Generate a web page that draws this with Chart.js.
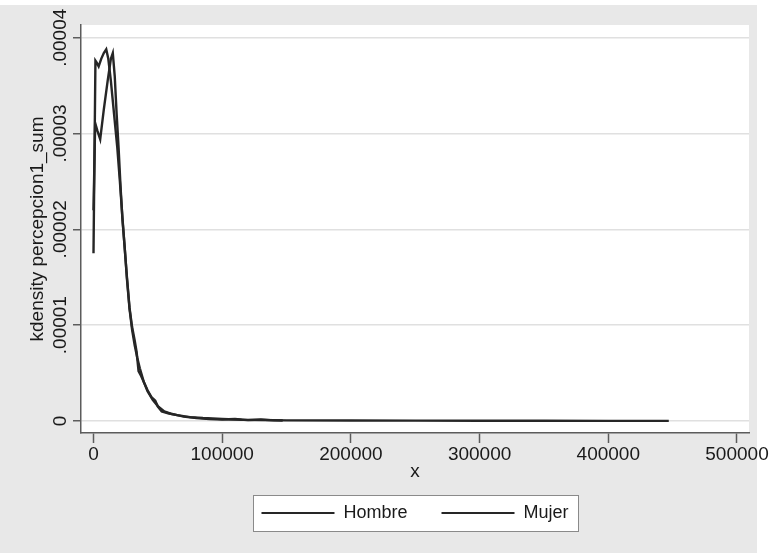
<!DOCTYPE html>
<html>
<head>
<meta charset="utf-8">
<script src="https://cdn.jsdelivr.net/npm/chart.js@4.4.1/dist/chart.umd.min.js"></script>
<style>
  html, body { margin: 0; padding: 0; background: #ffffff; }
  #wrap { width: 770px; height: 553px; }
</style>
</head>
<body>
<div id="wrap"><canvas id="kd" width="770" height="553"></canvas></div>
<script>
// Kernel density of percepcion1_sum by sex
const seriesNames = ['Hombre', 'Mujer'];

const hombreX = [0, 1300, 3000, 5200, 8000, 11000, 13500, 15000, 16500, 18000, 19500, 21000, 22500, 24000,
  26000, 28000, 30000, 32000, 33500, 35000, 37000, 39000, 42000, 45000, 48000, 50000, 53000, 58000,
  65000, 75000, 85000, 100000, 115000, 130000, 150000, 200000, 250000, 300000, 350000, 400000, 447000];
const hombreY = [2.2e-5, 3.11e-5, 3.03e-5, 2.94e-5, 3.25e-5, 3.55e-5, 3.78e-5, 3.84e-5, 3.6e-5, 3.2e-5,
  2.85e-5, 2.45e-5, 2.1e-5, 1.85e-5, 1.5e-5, 1.18e-5, 0.98e-5, 0.84e-5, 0.72e-5, 0.52e-5, 0.47e-5,
  0.41e-5, 0.32e-5, 0.25e-5, 0.21e-5, 0.15e-5, 0.1e-5, 0.08e-5, 0.06e-5, 0.04e-5, 0.03e-5, 0.02e-5,
  0.012e-5, 0.01e-5, 0.006e-5, 0.004e-5, 0.003e-5, 0.002e-5, 0.002e-5, 0.001e-5, 0.001e-5];

const mujerX = [0, 1500, 2500, 4000, 6000, 8000, 9900, 11500, 13500, 16000, 18500, 20500, 22500, 24000,
  26000, 28000, 30000, 32000, 34000, 36000, 39000, 42000, 46000, 50000, 55000, 60000, 65000, 70000,
  80000, 90000, 100000, 110000, 120000, 130000, 140000, 147000];
const mujerY = [1.75e-5, 3.76e-5, 3.74e-5, 3.7e-5, 3.78e-5, 3.84e-5, 3.88e-5, 3.78e-5, 3.55e-5, 3.2e-5,
  2.85e-5, 2.5e-5, 2.12e-5, 1.85e-5, 1.48e-5, 1.17e-5, 0.95e-5, 0.79e-5, 0.66e-5, 0.55e-5, 0.41e-5,
  0.31e-5, 0.22e-5, 0.155e-5, 0.1e-5, 0.075e-5, 0.06e-5, 0.045e-5, 0.03e-5, 0.02e-5, 0.015e-5,
  0.02e-5, 0.008e-5, 0.015e-5, 0.006e-5, 0.005e-5];

const xTickValues = [0, 100000, 200000, 300000, 400000, 500000];
const xTickLabels = ['0', '100000', '200000', '300000', '400000', '500000'];
const yTickValues = [0, 0.00001, 0.00002, 0.00003, 0.00004];
const yTickLabels = ['0', '.00001', '.00002', '.00003', '.00004'];

const FONT = '"Liberation Sans", Arial, Helvetica, sans-serif';
const INK = '#1a1a1a';
const AXIS = '#5c5c5c';
const LINE = '#262626';

Chart.defaults.font.family = FONT;
Chart.defaults.color = INK;

const toPoints = (xs, ys) => xs.map((x, i) => ({ x: x, y: ys[i] }));

// background panels, legend frame and the rotated y tick labels
const frame = {
  id: 'frame',
  beforeDraw(chart) {
    const { ctx, chartArea } = chart;
    ctx.save();
    ctx.fillStyle = '#ffffff';
    ctx.fillRect(0, 0, chart.width, chart.height);
    ctx.fillStyle = '#e8e8e8';
    ctx.fillRect(0, 5, 757, chart.height - 5);
    ctx.fillStyle = '#ffffff';
    ctx.fillRect(chartArea.left, chartArea.top, chartArea.right - chartArea.left, chartArea.bottom - chartArea.top);
    const hb = chart.legend && chart.legend.legendHitBoxes;
    if (hb && hb.length) {
      const first = hb[0], last = hb[hb.length - 1];
      const cy = first.top + first.height / 2;
      const l = first.left - 8, r = last.left + last.width + 10;
      ctx.fillStyle = '#ffffff';
      ctx.fillRect(l, cy - 18, r - l, 36);
      ctx.strokeStyle = '#8a8a8a';
      ctx.lineWidth = 1;
      ctx.strokeRect(Math.round(l) + 0.5, Math.round(cy - 18) + 0.5, Math.round(r - l), 36);
    }
    ctx.restore();
  },
  afterDraw(chart) {
    const ctx = chart.ctx;
    const ys = chart.scales.y;
    ctx.save();
    ctx.font = '19px ' + FONT;
    ctx.fillStyle = INK;
    ctx.textAlign = 'center';
    ctx.textBaseline = 'alphabetic';
    yTickValues.forEach((v, i) => {
      const py = ys.getPixelForValue(v);
      ctx.save();
      ctx.translate(ys.right - 15, py);
      ctx.rotate(-Math.PI / 2);
      ctx.fillText(yTickLabels[i], 0, 0);
      ctx.restore();
    });
    ctx.restore();
  }
};

new Chart(document.getElementById('kd'), {
  type: 'line',
  data: {
    datasets: [
      { label: seriesNames[0], data: toPoints(hombreX, hombreY) },
      { label: seriesNames[1], data: toPoints(mujerX, mujerY) }
    ]
  },
  options: {
    responsive: false,
    animation: false,
    devicePixelRatio: 1,
    layout: { padding: { top: 25, right: 21, bottom: 21, left: 0 } },
    elements: {
      line: { borderColor: LINE, backgroundColor: LINE, borderWidth: 2.4, tension: 0, fill: false },
      point: { radius: 0, hoverRadius: 0 }
    },
    plugins: {
      tooltip: { enabled: false },
      legend: {
        position: 'bottom',
        fullSize: false,
        align: 'center',
        labels: {
          font: { size: 18, family: FONT },
          color: INK,
          boxWidth: 73,
          boxHeight: 2,
          padding: 34,
          generateLabels(chart) {
            return Chart.defaults.plugins.legend.labels.generateLabels(chart)
              .map(l => Object.assign(l, { lineWidth: 0, fillStyle: LINE, strokeStyle: LINE }));
          }
        }
      }
    },
    scales: {
      x: {
        type: 'linear',
        min: -9713,
        max: 509330,
        afterBuildTicks(scale) { scale.ticks = xTickValues.map(v => ({ value: v })); },
        afterFit(scale) { scale.height = 37; },
        ticks: {
          autoSkip: false,
          maxRotation: 0,
          minRotation: 0,
          padding: 0,
          color: INK,
          font: { size: 19, family: FONT },
          callback: (v) => xTickLabels[xTickValues.indexOf(v)]
        },
        grid: {
          drawOnChartArea: false,
          drawTicks: true,
          tickLength: 10,
          tickColor: AXIS,
          tickWidth: 1.5
        },
        border: { display: true, color: AXIS, width: 1.5 },
        title: {
          display: true,
          text: 'x',
          color: INK,
          font: { size: 19, family: FONT },
          padding: { top: 0, bottom: -13 }
        }
      },
      y: {
        type: 'linear',
        min: -0.126e-5,
        max: 4.133e-5,
        afterBuildTicks(scale) { scale.ticks = yTickValues.map(v => ({ value: v })); },
        afterFit(scale) { scale.width = 81; },
        ticks: { display: false },
        grid: {
          drawOnChartArea: true,
          color: '#e0e0e0',
          lineWidth: 1.5,
          drawTicks: true,
          tickLength: 8,
          tickColor: AXIS,
          tickWidth: 1.5
        },
        border: { display: true, color: AXIS, width: 1.5 },
        title: {
          display: true,
          text: 'kdensity percepcion1_sum',
          color: INK,
          font: { size: 19, family: FONT },
          padding: { top: 26, bottom: 0 }
        }
      }
    }
  },
  plugins: [frame]
});
</script>
</body>
</html>
